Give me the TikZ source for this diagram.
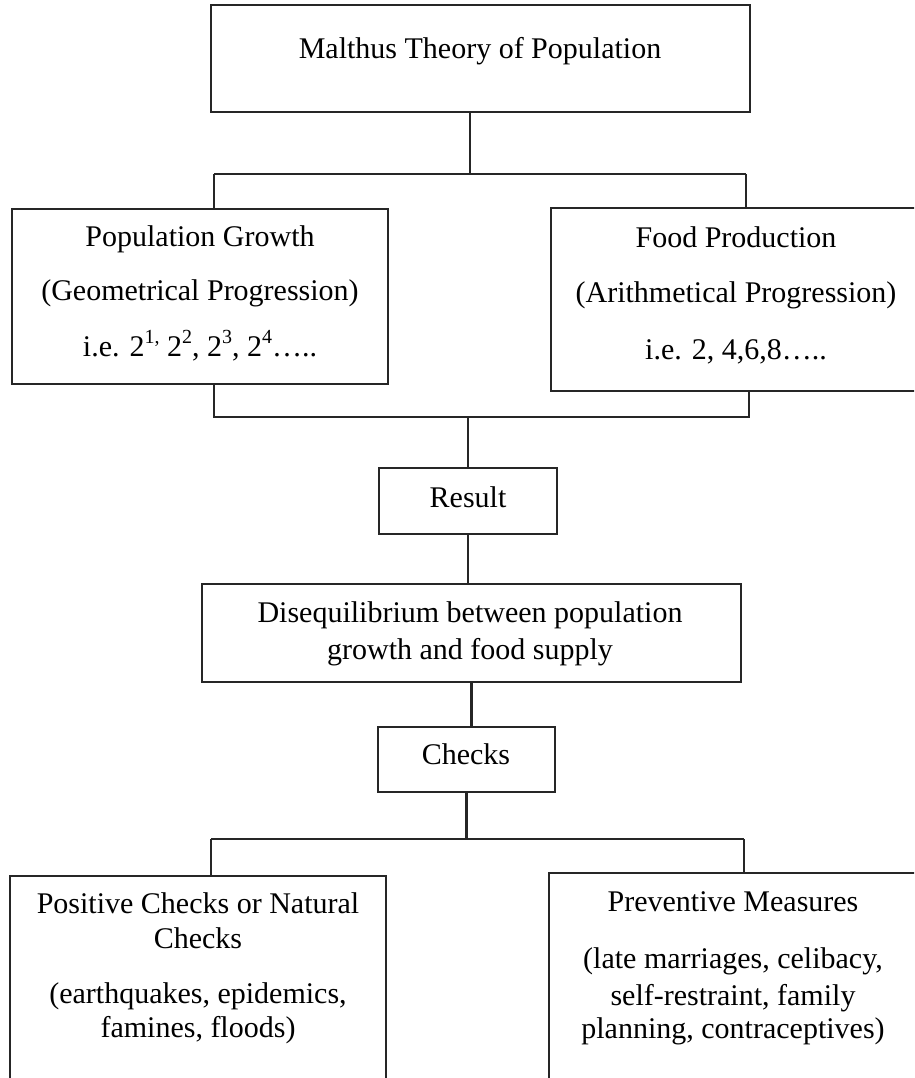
\documentclass[tikz,border=0pt]{standalone}
\usepackage{fontspec}
\setmainfont{Liberation Serif}
\newcommand{\mysup}[1]{\raisebox{0.42em}{\fontsize{20}{22}\selectfont #1}}
\begin{document}
\begin{tikzpicture}[x=1pt,y=-1pt]
\tikzset{
 box/.style={draw=black!85, line width=2.6pt, inner sep=0pt},
 conn/.style={draw=black!85, line width=2.4pt},
 txt/.style={anchor=base, inner sep=0pt, font=\fontsize{30}{36}\selectfont},
}
\useasboundingbox (0,0) rectangle (914,1078);
\clip (0,0) rectangle (914,1078);
% boxes
\node[box, minimum width=539pt, minimum height=107pt] (top) at (480.5,58.5) {};
\node[box, minimum width=376pt, minimum height=175pt] (pg) at (200,296.5) {};
\node[box, minimum width=370pt, minimum height=183pt] (fp) at (736,299.5) {};
\node[box, minimum width=178pt, minimum height=66pt] (res) at (468,501) {};
\node[box, minimum width=539pt, minimum height=98pt] (dis) at (471.5,633) {};
\node[box, minimum width=177pt, minimum height=65pt] (chk) at (466.5,759.5) {};
\node[box, minimum width=376pt, minimum height=224pt] (pos) at (198,988) {};
\node[box, minimum width=368pt, minimum height=227pt] (prev) at (733,986.5) {};
% texts
\node[txt] (t1) at (480,59) {Malthus Theory of Population};
\node[txt] (t2a) at (200,246) {Population Growth};
\node[txt] (t2b) at (200,300) {(Geometrical Progression)};
\node[txt] (t2c) at (200,356) {i.e. 2\mysup{1,} 2\mysup{2}, 2\mysup{3}, 2\mysup{4}\dots..};
\node[txt] (t3a) at (736,247) {Food Production};
\node[txt] (t3b) at (736,302) {(Arithmetical Progression)};
\node[txt] (t3c) at (736,359) {i.e. 2, 4,6,8\dots..};
\node[txt] (t4) at (468,507) {Result};
\node[txt] (t5a) at (470,622) {Disequilibrium between population};
\node[txt] (t5b) at (470,659) {growth and food supply};
\node[txt] (t6) at (466,764) {Checks};
\node[txt] (t7a) at (198,913) {Positive Checks or Natural};
\node[txt] (t7b) at (198,948) {Checks};
\node[txt] (t7c) at (198,1003) {(earthquakes, epidemics,};
\node[txt] (t7d) at (198,1037) {famines, floods)};
\node[txt] (t8a) at (733,911) {Preventive Measures};
\node[txt] (t8b) at (733,968) {(late marriages, celibacy,};
\node[txt] (t8c) at (733,1005) {self-restraint, family};
\node[txt] (t8d) at (733,1038) {planning, contraceptives)};
% connector coordinates
\coordinate (a1) at (470,174);
\coordinate (aL) at (214,174);
\coordinate (aR) at (746,174);
\coordinate (b1) at (468,417);
\coordinate (bL) at (214,417);
\coordinate (bR) at (749,417);
\coordinate (c1) at (466.5,839);
\coordinate (cL) at (211,839);
\coordinate (cR) at (744,839);
% connectors
\draw[conn] (top.south -| a1) -- (a1);
\draw[conn] (aL) -- (aR);
\draw[conn] (aL) -- (aL |- pg.north);
\draw[conn] (aR) -- (aR |- fp.north);
\draw[conn] (bL |- pg.south) -- (bL) -- (bR) -- (bR |- fp.south);
\draw[conn] (b1) -- (res.north);
\draw[conn] (res.south) -- (dis.north -| res.south);
\draw[conn] (dis.south) -- (chk.north -| dis.south);
\draw[conn] (chk.south) -- (c1);
\draw[conn] (cL) -- (cR);
\draw[conn] (cL) -- (cL |- pos.north);
\draw[conn] (cR) -- (cR |- prev.north);
\end{tikzpicture}
\end{document}
